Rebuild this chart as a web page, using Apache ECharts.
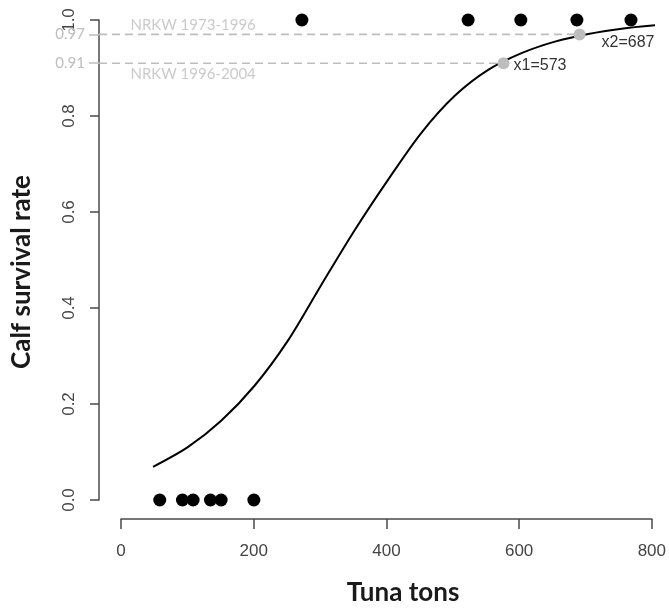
<!DOCTYPE html>
<html>
<head>
<meta charset="utf-8">
<script src="https://cdn.jsdelivr.net/npm/echarts@6/dist/echarts.min.js"></script>
<style>
html,body{margin:0;padding:0;background:#fff;}
#chart{width:669px;height:608px;}
</style>
</head>
<body>
<div id="chart"></div>
<script>
// ---- data ----
const xTicks = [0, 200, 400, 600, 800];
const yTicks = [0, 0.2, 0.4, 0.6, 0.8, 1.0];
const refTicks = [0.91, 0.97];

const deathX = [58, 92, 108, 134, 150, 199];      // survival 0
const deathY = [0, 0, 0, 0, 0, 0];
const survX = [271, 520, 599, 683, 764];          // survival 1
const survY = [1, 1, 1, 1, 1];

const curveX = [48, 100, 150, 200, 250, 300, 350, 400, 450, 500, 550, 600, 650, 700, 750, 800];
const curveY = [0.069, 0.110, 0.165, 0.238, 0.332, 0.448, 0.562, 0.667, 0.765, 0.842, 0.896, 0.931, 0.955, 0.971, 0.982, 0.989];

const threshX = [573, 687];
const threshY = [0.91, 0.97];
const threshLabels = ['x1=573', 'x2=687'];

const noteLabels = ['NRKW 1973-1996', 'NRKW 1996-2004'];
const noteX = [108, 108];
const noteY = [0.990, 0.888];

const X_MIN = -33;   // data value where the y axis sits
const X_MAX = 800;

// ---- chart ----
const chart = echarts.init(document.getElementById('chart'), null, {renderer: 'canvas'});
const axisColor = '#4a4a4a';
const gray = '#bdbdbd';
const tickFont = 'Liberation Sans';

const zip = (a, b) => a.map((v, i) => [v, b[i]]);

const option = {
  backgroundColor: '#fff',
  animation: false,
  grid: [
    {left: 99, right: 14, top: 20, bottom: 108},
    {left: 121, right: 14, top: 20, bottom: 108}
  ],
  xAxis: [
    {gridIndex: 0, type: 'value', min: X_MIN, max: X_MAX, show: false},
    {gridIndex: 1, type: 'value', min: xTicks[0], max: xTicks[xTicks.length - 1], interval: 200,
     offset: 19,
     axisLine: {show: true, onZero: false, lineStyle: {color: axisColor, width: 1.5}},
     axisTick: {show: true, length: 10, lineStyle: {color: axisColor, width: 1.5}},
     axisLabel: {margin: 24, fontFamily: tickFont, fontSize: 17, color: '#444'},
     splitLine: {show: false}}
  ],
  yAxis: [
    {gridIndex: 0, type: 'value', min: yTicks[0], max: yTicks[yTicks.length - 1], interval: 0.2,
     axisLine: {show: true, onZero: false, lineStyle: {color: axisColor, width: 1.5}},
     axisTick: {show: true, length: 9, lineStyle: {color: axisColor, width: 1.5}},
     axisLabel: {rotate: 90, margin: 21, fontFamily: tickFont, fontSize: 17, color: '#444',
                 formatter: v => v.toFixed(1)},
     splitLine: {show: false}},
    {gridIndex: 0, type: 'value', min: 0, max: 1, position: 'left',
     axisLine: {show: false, onZero: false},
     axisTick: {show: true, length: 10, customValues: refTicks, lineStyle: {color: gray, width: 1.5}},
     axisLabel: {show: true, customValues: refTicks, margin: 14, fontFamily: 'Lato', fontSize: 15, color: gray,
                 formatter: v => v.toFixed(2)},
     splitLine: {show: false}},
    {gridIndex: 1, type: 'value', min: 0, max: 1, show: false}
  ],
  graphic: [
    {type: 'text', x: 403, y: 593, silent: true,
     style: {text: 'Tuna tons', font: 'bold 26px Lato', fill: '#1a1a1a', textAlign: 'center', textVerticalAlign: 'middle'}},
    {type: 'text', x: 22, y: 272, rotation: Math.PI / 2, silent: true,
     style: {text: 'Calf survival rate', font: 'bold 26px Lato', fill: '#1a1a1a', textAlign: 'center', textVerticalAlign: 'middle'}}
  ],
  series: [
    {type: 'line', xAxisIndex: 0, yAxisIndex: 0, clip: false, symbol: 'none', z: 1,
     data: [[X_MIN, threshY[1]], [threshX[1], threshY[1]]],
     lineStyle: {color: gray, width: 1.6, type: [8, 5]}},
    {type: 'line', xAxisIndex: 0, yAxisIndex: 0, clip: false, symbol: 'none', z: 1,
     data: [[X_MIN, threshY[0]], [threshX[0], threshY[0]]],
     lineStyle: {color: gray, width: 1.6, type: [8, 5]}},
    {type: 'scatter', xAxisIndex: 0, yAxisIndex: 0, clip: false, z: 2,
     symbolSize: 13, itemStyle: {color: '#000', opacity: 1},
     data: zip(deathX, deathY).concat(zip(survX, survY))},
    {type: 'line', xAxisIndex: 0, yAxisIndex: 0, clip: false, symbol: 'none', z: 3,
     smooth: 0.3,
     data: zip(curveX, curveY),
     lineStyle: {color: '#000', width: 2}},
    {type: 'scatter', xAxisIndex: 0, yAxisIndex: 0, clip: false, z: 4,
     symbolSize: 12, itemStyle: {color: gray, opacity: 1},
     data: threshX.map((x, i) => ({value: [x, threshY[i]], name: threshLabels[i],
        label: i === 0 ? {offset: [0, 2]} : {offset: [12, 8]}})),
     label: {show: true, position: 'right', distance: 4, formatter: p => p.name,
             fontFamily: tickFont, fontSize: 16, color: '#333'}},
    {type: 'scatter', xAxisIndex: 0, yAxisIndex: 0, clip: false, z: 5,
     symbolSize: 0, silent: true,
     data: noteX.map((x, i) => ({value: [x, noteY[i]], name: noteLabels[i]})),
     label: {show: true, position: 'inside', formatter: p => p.name,
             fontFamily: 'Lato', fontSize: 15, color: gray}}
  ]
};
chart.setOption(option);
</script>
</body>
</html>
